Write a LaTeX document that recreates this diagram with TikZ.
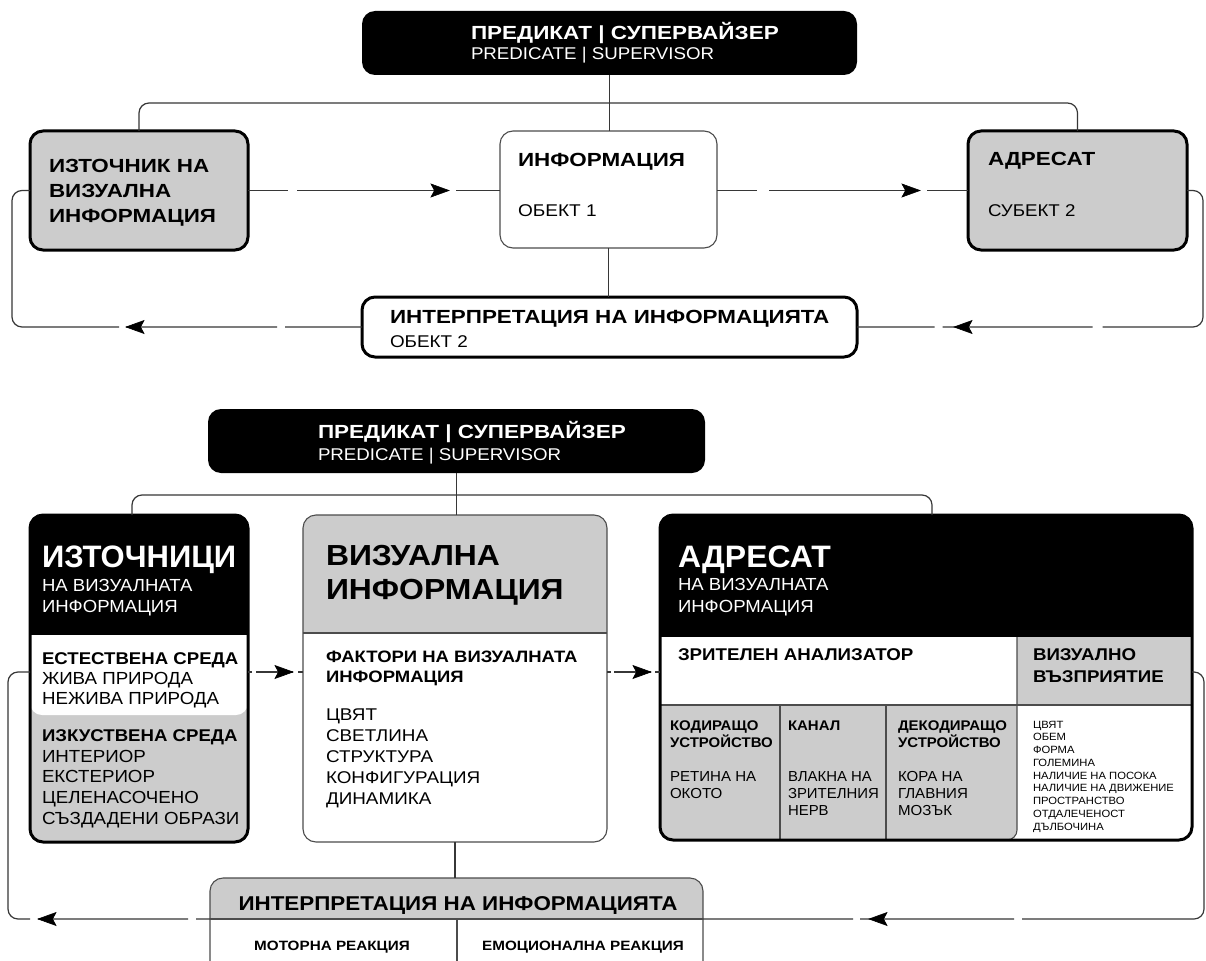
\documentclass[tikz,border=0pt]{standalone}
\usepackage{fontspec}
\usepackage{graphicx}
\setmainfont{Liberation Sans}
\usetikzlibrary{calc}
\definecolor{boxgray}{RGB}{204,204,204}
\definecolor{linegray}{RGB}{55,55,55}
\newcommand\myb[1]{\fontsize{#1}{#1}\selectfont\bfseries}
\newcommand\myr[1]{\fontsize{#1}{#1}\selectfont}
\newcommand\sx[2]{\scalebox{#1}[1]{#2}}
\tikzset{
  box/.style={rounded corners=13pt, inner sep=0pt, outer sep=0pt},
  boldframe/.style={draw=black, line width=3pt},
  thinframe/.style={draw=gray!60!black, line width=1.1pt},
  conn/.style={draw=linegray, line width=1.2pt},
  txt/.style={anchor=base west, inner sep=0pt, outer sep=0pt},
  ctxt/.style={anchor=base, inner sep=0pt, outer sep=0pt},
  arrR/.pic={\filldraw[black, line width=0.6pt, line join=miter] (0,0) -- (-18,-6.5) -- (-14.5,0) -- (-18,6.5) -- cycle;},
  arrL/.pic={\filldraw[black, line width=0.6pt, line join=miter] (0,0) -- (18,-6.5) -- (14.5,0) -- (18,6.5) -- cycle;},
}
\begin{document}
\begin{tikzpicture}[x=1pt,y=-1pt]
\useasboundingbox (0,0) rectangle (1206,960);
\clip (0,0) rectangle (1206,960);
\fill[white] (0,0) rectangle (1206,960);

% ================= TOP DIAGRAM =================
\node[box, fill=black, minimum width=495pt, minimum height=64pt] (pred1) at (609.5,43) {};
\node[txt, text=white, font=\myb{19}] (pred1a) at (471,40) {\sx{1.185}{ПРЕДИКАТ | СУПЕРВАЙЗЕР}};
\node[txt, text=white, font=\myr{17}] (pred1b) at (471,60) {\sx{1.1}{PREDICATE | SUPERVISOR}};

\node[box, boldframe, fill=boxgray, minimum width=218pt, minimum height=119pt] (src1) at (139,190.5) {};
\foreach \t [count=\i] in {ИЗТОЧНИК НА, ВИЗУАЛНА, ИНФОРМАЦИЯ}
  \node[txt, font=\myb{19}] (src1t\i) at (49,{173+24.5*(\i-1)}) {\sx{1.18}{\t}};

\node[box, thinframe, fill=white, minimum width=217pt, minimum height=117pt] (info1) at (608.5,189.5) {};
\node[txt, font=\myb{19}] (info1a) at (518,167) {\sx{1.18}{ИНФОРМАЦИЯ}};
\node[txt, font=\myr{17}] (info1b) at (518,216) {\sx{1.12}{ОБЕКТ 1}};

\node[box, boldframe, fill=boxgray, minimum width=219pt, minimum height=119pt] (adr1) at (1077.5,190.5) {};
\node[txt, font=\myb{19}] (adr1a) at (988,165) {\sx{1.18}{АДРЕСАТ}};
\node[txt, font=\myr{17}] (adr1b) at (988,216) {\sx{1.1}{СУБЕКТ 2}};

\node[box, boldframe, fill=white, minimum width=495pt, minimum height=60pt] (int1) at (609.5,327) {};
\node[txt, font=\myb{19}] (int1a) at (390,323) {\sx{1.18}{ИНТЕРПРЕТАЦИЯ НА ИНФОРМАЦИЯТА}};
\node[txt, font=\myr{17}] (int1b) at (390,347) {\sx{1.11}{ОБЕКТ 2}};

\draw[conn] (pred1.south) -- (pred1.south |- info1.north);
\draw[conn, rounded corners=10pt] (src1.north) |- ($(pred1.south)+(0,28)$) -| (adr1.north);
\draw[conn] (info1.south) -- (info1.south |- int1.north);

\draw[conn, dash pattern=on 40pt off 9pt on 152pt off 7pt on 300pt]
  (src1.east) -- (src1.east -| info1.west);
\pic at ($(src1.east)+(201,0)$) {arrR};
\draw[conn, dash pattern=on 40pt off 12pt on 151pt off 7pt on 300pt]
  (info1.east |- adr1.west) -- (adr1.west);
\pic at ($(info1.east |- adr1.west)+(203,0)$) {arrR};
\draw[conn, rounded corners=10pt, dash pattern=on 244pt off 10pt on 150pt off 8pt on 400pt]
  (adr1.east) -| ($(adr1.east |- int1.east)+(16,0)$) -- (int1.east);
\pic at ($(int1.east)+(97,0)$) {arrL};
\draw[conn, rounded corners=10pt, dash pattern=on 77pt off 8pt on 151pt off 7pt on 600pt]
  (int1.west) -| ($(src1.west)+(-18,0)$) -- (src1.west);
\pic at ($(int1.west)+(-236,0)$) {arrL};

% ================= BOTTOM DIAGRAM =================
\node[box, fill=black, minimum width=497pt, minimum height=64pt] (pred2) at (456.5,441) {};
\node[txt, text=white, font=\myb{19}] (pred2a) at (318,438) {\sx{1.185}{ПРЕДИКАТ | СУПЕРВАЙЗЕР}};
\node[txt, text=white, font=\myr{17}] (pred2b) at (318,460) {\sx{1.1}{PREDICATE | SUPERVISOR}};

% sources
\node[box, fill=boxgray, minimum width=218pt, minimum height=327pt] (src2) at (139,678.5) {};
\begin{scope}
  \clip[rounded corners=13pt] (src2.north west) rectangle (src2.south east);
  \fill[white, rounded corners=12pt] ($(src2.north west)+(0,100)$) rectangle ($(src2.north east)+(0,200)$);
  \fill[black] (src2.north west) rectangle ($(src2.north east)+(0,120)$);
\end{scope}
\draw[boldframe, rounded corners=13pt] (src2.north west) rectangle (src2.south east);
\node[txt, text=white, font=\myb{31}] (src2a) at (42,567) {ИЗТОЧНИЦИ};
\node[txt, text=white, font=\myr{17.5}] (src2b) at (42,591) {\sx{1.06}{НА ВИЗУАЛНАТА}};
\node[txt, text=white, font=\myr{17.5}] (src2c) at (42,612) {\sx{1.06}{ИНФОРМАЦИЯ}};
\node[txt, font=\myb{17}] (src2d) at (42,664) {\sx{1.095}{ЕСТЕСТВЕНА СРЕДА}};
\node[txt, font=\myr{17.5}] (src2e) at (42,684) {\sx{1.07}{ЖИВА ПРИРОДА}};
\node[txt, font=\myr{17.5}] (src2f) at (42,704) {\sx{1.07}{НЕЖИВА ПРИРОДА}};
\node[txt, font=\myb{17}] (src2g) at (42,741) {\sx{1.095}{ИЗКУСТВЕНА СРЕДА}};
\foreach \t [count=\i] in {ИНТЕРИОР, ЕКСТЕРИОР, ЦЕЛЕНАСОЧЕНО, СЪЗДАДЕНИ ОБРАЗИ}
  \node[txt, font=\myr{17.5}] (src2l\i) at (42,{762+20.7*(\i-1)}) {\sx{1.07}{\t}};

% visual information
\node[box, fill=white, minimum width=304pt, minimum height=327pt] (vis2) at (455,678.5) {};
\begin{scope}
  \clip[rounded corners=13pt] (vis2.north west) rectangle (vis2.south east);
  \fill[boxgray] (vis2.north west) rectangle ($(vis2.north east)+(0,118)$);
\end{scope}
\draw[thinframe] ($(vis2.north west)+(0,118)$) -- ($(vis2.north east)+(0,118)$);
\draw[thinframe, rounded corners=13pt] (vis2.north west) rectangle (vis2.south east);
\node[txt, font=\myb{29}] (vis2a) at (326,565) {\sx{1.1}{ВИЗУАЛНА}};
\node[txt, font=\myb{29}] (vis2b) at (326,599) {\sx{1.1}{ИНФОРМАЦИЯ}};
\node[txt, font=\myb{16.5}] (vis2c) at (326,662) {\sx{1.12}{ФАКТОРИ НА ВИЗУАЛНАТА}};
\node[txt, font=\myb{16.5}] (vis2d) at (326,682) {\sx{1.12}{ИНФОРМАЦИЯ}};
\foreach \t [count=\i] in {ЦВЯТ, СВЕТЛИНА, СТРУКТУРА, КОНФИГУРАЦИЯ, ДИНАМИКА}
  \node[txt, font=\myr{17}] (vis2l\i) at (326,{720+21*(\i-1)}) {\sx{1.11}{\t}};

% addressee
\node[box, fill=white, minimum width=532pt, minimum height=325pt] (adr2) at (926,677.5) {};
\begin{scope}
  \clip[rounded corners=13pt] (adr2.north west) rectangle (adr2.south east);
  \fill[black] (adr2.north west) rectangle ($(adr2.north east)+(0,122)$);
  \fill[boxgray] (1017,637) rectangle (1200,705);
  \fill[boxgray] (650,705) -- (1017,705) [rounded corners=10pt] -- (1017,840) [sharp corners] -- (650,850) -- cycle;
\end{scope}
\draw[thinframe] (660,705) -- (1192,705);
\draw[thinframe] (780,705) -- (780,840);
\draw[thinframe] (886,705) -- (886,840);
\draw[thinframe] (1017,637) -- (1017,705) [rounded corners=10pt] -- (1017,840) -- (1000,840);
\draw[boldframe, rounded corners=13pt] (adr2.north west) rectangle (adr2.south east);
\node[txt, text=white, font=\myb{31}] (adr2a) at (678,567) {\sx{1.03}{АДРЕСАТ}};
\node[txt, text=white, font=\myr{17.5}] (adr2b) at (678,590) {\sx{1.06}{НА ВИЗУАЛНАТА}};
\node[txt, text=white, font=\myr{17.5}] (adr2c) at (678,612) {\sx{1.06}{ИНФОРМАЦИЯ}};
\node[txt, font=\myb{17}] (adr2d) at (678,660) {\sx{1.1}{ЗРИТЕЛЕН АНАЛИЗАТОР}};
\node[txt, font=\myb{17}] (adr2e) at (1033,660) {\sx{1.1}{ВИЗУАЛНО}};
\node[txt, font=\myb{17}] (adr2f) at (1033,682) {\sx{1.1}{ВЪЗПРИЯТИЕ}};
\node[txt, font=\myb{14}] (c1a) at (670,730) {\sx{1.07}{КОДИРАЩО}};
\node[txt, font=\myb{14}] (c1b) at (670,747) {\sx{1.07}{УСТРОЙСТВО}};
\node[txt, font=\myr{14.5}] (c1c) at (670,781) {\sx{1.04}{РЕТИНА НА}};
\node[txt, font=\myr{14.5}] (c1d) at (670,798) {\sx{1.04}{ОКОТО}};
\node[txt, font=\myb{14}] (c2a) at (788,730) {\sx{1.07}{КАНАЛ}};
\node[txt, font=\myr{14.5}] (c2c) at (788,781) {\sx{1.03}{ВЛАКНА НА}};
\node[txt, font=\myr{14.5}] (c2d) at (788,798) {\sx{1.03}{ЗРИТЕЛНИЯ}};
\node[txt, font=\myr{14.5}] (c2e) at (788,815) {\sx{1.03}{НЕРВ}};
\node[txt, font=\myb{14}] (c3a) at (898,730) {\sx{1.07}{ДЕКОДИРАЩО}};
\node[txt, font=\myb{14}] (c3b) at (898,747) {\sx{1.07}{УСТРОЙСТВО}};
\node[txt, font=\myr{14.5}] (c3c) at (898,781) {\sx{1.04}{КОРА НА}};
\node[txt, font=\myr{14.5}] (c3d) at (898,798) {\sx{1.04}{ГЛАВНИЯ}};
\node[txt, font=\myr{14.5}] (c3e) at (898,815) {\sx{1.04}{МОЗЪК}};
\foreach \t [count=\i] in {ЦВЯТ, ОБЕМ, ФОРМА, ГОЛЕМИНА, НАЛИЧИЕ НА ПОСОКА, НАЛИЧИЕ НА ДВИЖЕНИЕ, ПРОСТРАНСТВО, ОТДАЛЕЧЕНОСТ, ДЪЛБОЧИНА}
  \node[txt, font=\myr{10.5}] (perc\i) at (1033,{728+12.75*(\i-1)}) {\sx{1.07}{\t}};

% interpretation
\node[box, fill=white, minimum width=493pt, minimum height=122pt] (int2) at (456.5,939) {};
\begin{scope}
  \clip[rounded corners=13pt] (int2.north west) rectangle (int2.south east);
  \fill[boxgray] (int2.north west) rectangle ($(int2.north east)+(0,41)$);
\end{scope}
\draw[thinframe] ($(int2.north west)+(0,41)$) -- ($(int2.north east)+(0,41)$);
\draw[thinframe] (457,919) -- (457,1000);
\draw[thinframe, rounded corners=13pt] (int2.north west) rectangle (int2.south east);
\node[ctxt, font=\myb{20}] (int2a) at (458,910) {\sx{1.12}{ИНТЕРПРЕТАЦИЯ НА ИНФОРМАЦИЯТА}};
\node[ctxt, font=\myb{13.5}] (int2b) at (332,950) {\sx{1.13}{МОТОРНА РЕАКЦИЯ}};
\node[ctxt, font=\myb{13.5}] (int2c) at (583,950) {\sx{1.13}{ЕМОЦИОНАЛНА РЕАКЦИЯ}};

% connectors bottom
\coordinate (r2) at (0,672);
\coordinate (ry) at (0,919);
\draw[conn] (pred2.south) -- (pred2.south |- vis2.north);
\draw[conn, rounded corners=10pt] ([xshift=-7pt]src2.north) |- ($(pred2.south)+(0,22)$) -| ([xshift=6pt]adr2.north);
\draw[conn] (vis2.south) -- (vis2.south |- int2.north);
\draw[conn, dash pattern=on 4pt off 4pt on 37pt off 5pt on 50pt]
  (src2.east |- r2) -- (vis2.west |- r2);
\pic at ($(src2.east |- r2)+(45,0)$) {arrR};
\draw[conn, dash pattern=on 4pt off 3pt on 37pt off 4pt on 50pt]
  (vis2.east |- r2) -- (adr2.west |- r2);
\pic at ($(vis2.east |- r2)+(44,0)$) {arrR};
\draw[conn, rounded corners=10pt, dash pattern=on 432pt off 8pt on 154pt off 7pt on 300pt]
  (adr2.east |- r2) -| ($(adr2.east |- ry)+(12,0)$) -- (int2.east |- ry);
\pic at ($(int2.east |- ry)+(166,0)$) {arrL};
\draw[conn, rounded corners=10pt, dash pattern=on 14pt off 8pt on 150pt off 8pt on 600pt]
  (int2.west |- ry) -| ($(src2.west |- r2)+(-22,0)$) -- (src2.west |- r2);
\pic at ($(int2.west |- ry)+(-172,0)$) {arrL};
\end{tikzpicture}
\end{document}
